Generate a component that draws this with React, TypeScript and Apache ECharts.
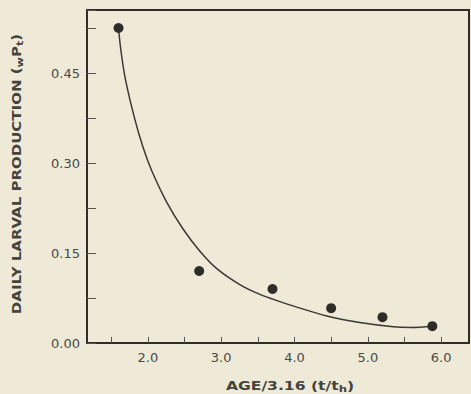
import React, { useEffect, useRef } from "react";
import * as echarts from "echarts";

// Observed data points (age / 3.16, daily larval production)
const pointAges = [1.6, 2.7, 3.7, 4.5, 5.2, 5.88];
const pointProduction = [0.525, 0.12, 0.09, 0.058, 0.043, 0.028];

// Fitted curve
const curveAges = [1.6, 1.63, 1.69, 1.82, 1.94, 2.05, 2.26, 2.48, 2.71, 2.94, 3.26, 3.53, 3.8, 4.0, 4.44, 4.89, 5.35, 5.6, 5.88];
const curveProduction = [0.525, 0.49, 0.442, 0.374, 0.324, 0.288, 0.234, 0.19, 0.153, 0.124, 0.097, 0.081, 0.069, 0.061, 0.045, 0.034, 0.027, 0.026, 0.028];

// Tick positions and tick labels
const xTickValues = [1.5, 2.0, 2.5, 3.0, 3.5, 4.0, 4.5, 5.0, 5.5, 6.0];
const xTickLabels = ["2.0", "3.0", "4.0", "5.0", "6.0"];
const yTickLabels = ["0.00", "0.15", "0.30", "0.45"];

const xTitle = "AGE/3.16 (t/t{sub|h})";
const yTitle = "DAILY LARVAL PRODUCTION ({sub|w}P{sub|t})";

const BG = "#eeead7";
const INK = "#2e2d29";
const FONT = "DejaVu Sans";

export default function App() {
  const ref = useRef<HTMLDivElement | null>(null);

  useEffect(() => {
    document.body.style.margin = "0";
    document.body.style.background = BG;
    if (!ref.current) return;
    const chart = echarts.init(ref.current, undefined, { renderer: "svg" });
    const sub = (size: number) => ({
      fontSize: size,
      fontFamily: FONT,
      fontWeight: "bold" as const,
      fill: "#44433e",
      verticalAlign: "bottom" as const,
      padding: [5, 0, 0, 0],
    });
    chart.setOption({
      animation: false,
      backgroundColor: BG,
      grid: {
        left: 87,
        top: 10,
        right: 2,
        bottom: 51,
        show: true,
        borderColor: INK,
        borderWidth: 2,
        backgroundColor: "transparent",
      },
      xAxis: {
        type: "value",
        min: 1.17,
        max: 6.38,
        splitLine: { show: false },
        axisLine: { show: true, lineStyle: { color: INK, width: 2 } },
        axisTick: {
          show: true,
          inside: true,
          length: 6,
          customValues: xTickValues,
          lineStyle: { color: "#55544e", width: 1 },
        },
        axisLabel: {
          margin: 8,
          color: "#4a4944",
          fontFamily: FONT,
          fontSize: 13,
          customValues: xTickLabels.map(Number),
          formatter: (v: number) => v.toFixed(1),
        },
      },
      yAxis: {
        type: "value",
        min: 0,
        max: 0.555,
        interval: 0.075,
        splitLine: { show: false },
        axisLine: { show: true, lineStyle: { color: INK, width: 2 } },
        axisTick: { show: true, inside: true, length: 9, lineStyle: { color: "#55544e", width: 1 } },
        axisLabel: {
          margin: 7,
          color: "#4a4944",
          fontFamily: FONT,
          fontSize: 13,
          formatter: (v: number) => {
            const s = v.toFixed(2);
            return yTickLabels.includes(s) && Math.abs(v / 0.15 - Math.round(v / 0.15)) < 1e-6 ? s : "";
          },
        },
      },
      graphic: [
        {
          type: "text",
          x: 290,
          y: 386,
          scaleX: 1.3,
          style: {
            text: xTitle,
            fontFamily: FONT,
            fontWeight: "bold",
            fontSize: 12,
            fill: "#44433e",
            align: "center",
            verticalAlign: "middle",
            rich: { sub: sub(9) },
          },
        },
        {
          type: "text",
          x: 17,
          y: 174,
          rotation: Math.PI / 2,
          scaleX: 1.25,
          style: {
            text: yTitle,
            fontFamily: FONT,
            fontWeight: "bold",
            fontSize: 12,
            fill: "#44433e",
            align: "center",
            verticalAlign: "middle",
            rich: { sub: sub(9) },
          },
        },
      ],
      series: [
        {
          type: "line",
          data: curveAges.map((x, i) => [x, curveProduction[i]]),
          showSymbol: false,
          smooth: 0.3,
          lineStyle: { color: "#3a3934", width: 1.5 },
          z: 2,
        },
        {
          type: "scatter",
          data: pointAges.map((x, i) => [x, pointProduction[i]]),
          symbolSize: 10,
          itemStyle: { color: INK, opacity: 1 },
          z: 3,
        },
      ],
    });
    return () => chart.dispose();
  }, []);

  return <div ref={ref} style={{ width: 471, height: 394, background: BG }} />;
}
